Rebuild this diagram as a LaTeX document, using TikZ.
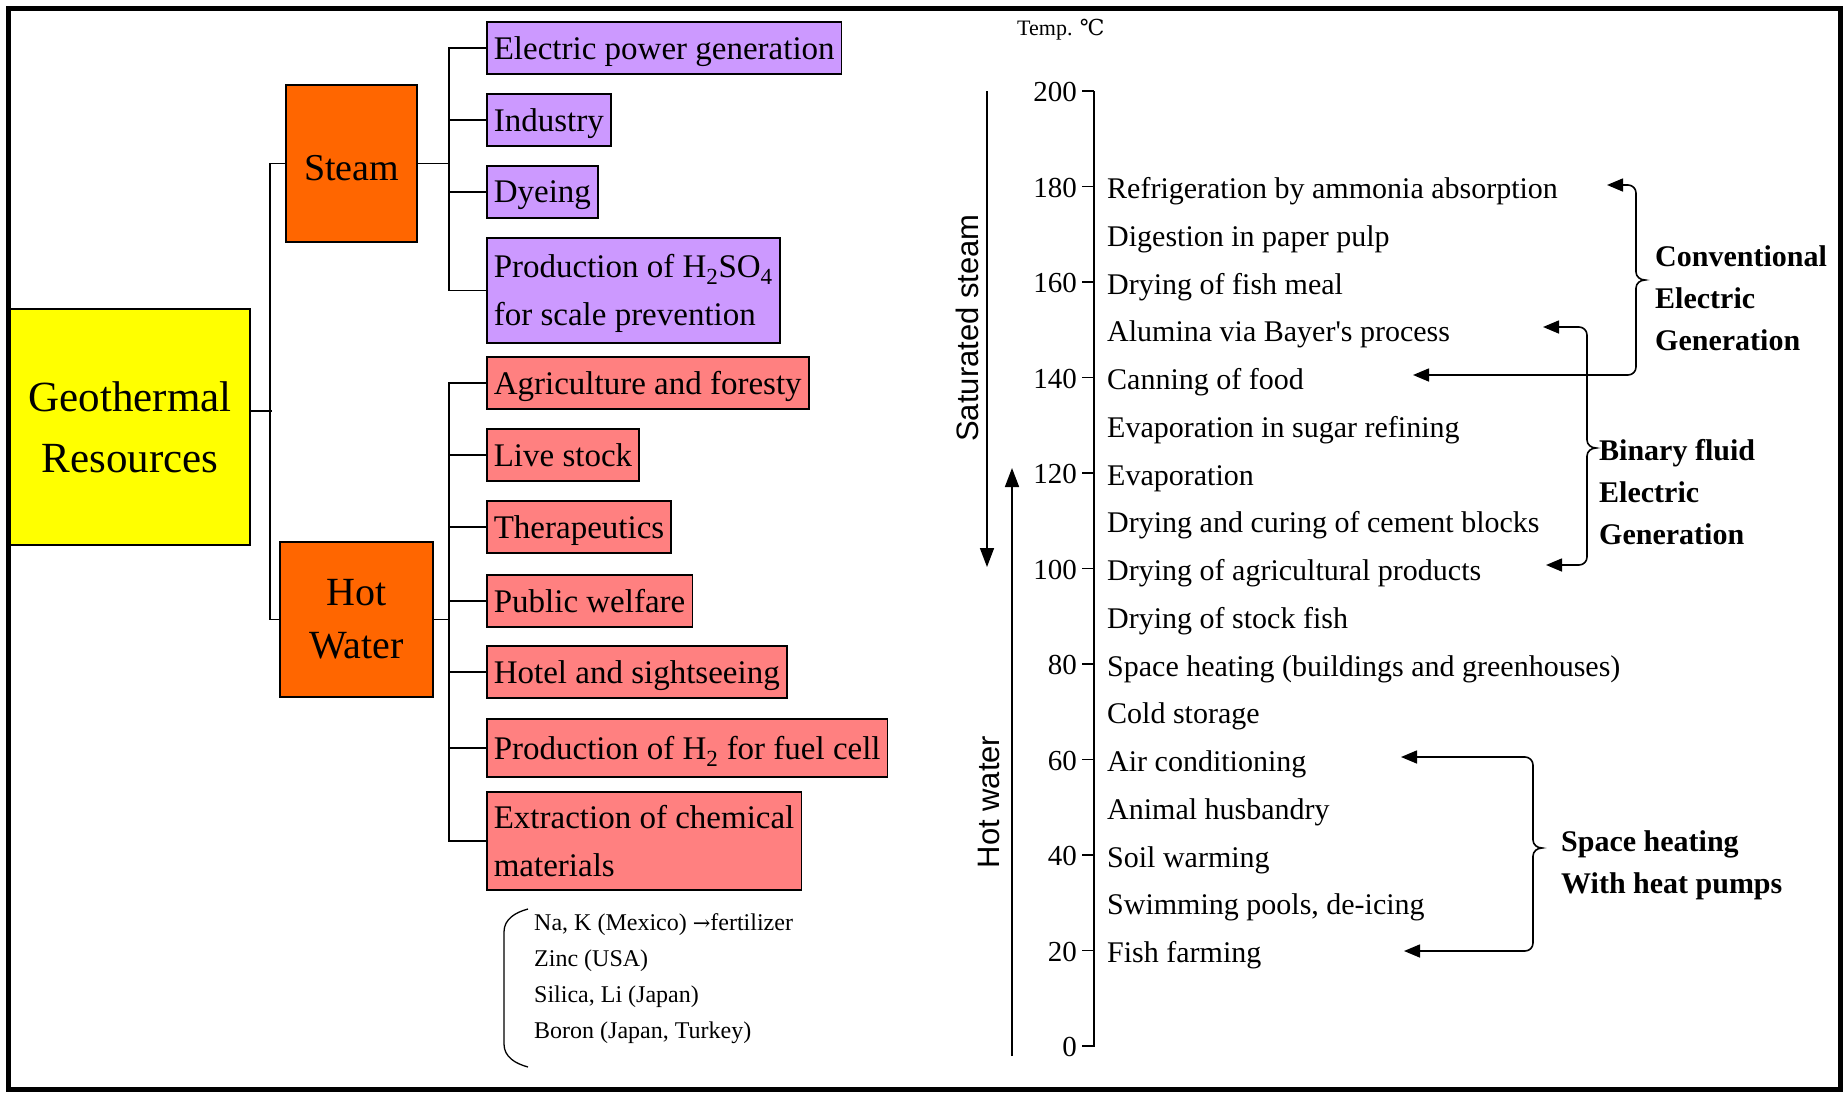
\documentclass[tikz,border=0pt]{standalone}
\usepackage{fontspec}
\setmainfont{Liberation Serif}
\newfontfamily\labelsans{Liberation Sans}
\newfontfamily\degfont{DejaVu Serif}
\usetikzlibrary{arrows.meta}

\definecolor{geocol}{HTML}{FFFF00}
\definecolor{srccol}{HTML}{FF6600}
\definecolor{steamcol}{HTML}{CC99FF}
\definecolor{watercol}{HTML}{FF8080}

\tikzset{
  usebox/.style={draw, line width=1.6pt, anchor=north west, inner xsep=7pt, inner ysep=0pt,
    minimum height=52pt, text depth=0pt, align=left, font=\fontsize{33}{48}\selectfont},
  steambox/.style={usebox, fill=steamcol},
  waterbox/.style={usebox, fill=watercol},
  srcbox/.style={draw, line width=1.6pt, inner sep=0pt, align=center},
  conn/.style={line width=1.6pt},
  tick/.style={anchor=base east, inner sep=0pt, font=\fontsize{29}{36}\selectfont},
  item/.style={anchor=base west, inner sep=0pt, font=\fontsize{30}{36}\selectfont},
  group/.style={anchor=west, inner sep=0pt, align=left, font=\fontsize{30}{42}\selectfont\bfseries},
  pointer/.style={line width=1.6pt, -{Triangle[length=19pt,width=14pt]}},
  twoway/.style={line width=1.6pt, {Triangle[length=16pt,width=13pt]}-{Triangle[length=16pt,width=13pt]}},
}

\begin{document}
\begin{tikzpicture}[x=1pt,y=-1pt]
	\useasboundingbox (0,0) rectangle (1845,1095);
	\draw[line width=5pt] (8,8) rectangle (1840,1089);

	% resources and their uses
	\node[srcbox, fill=geocol, minimum width=240pt, minimum height=236pt, font=\fontsize{43}{61}\selectfont] (geo) at (130,427) {Geothermal\\Resources};
	\node[srcbox, fill=srccol, minimum width=131pt, minimum height=157pt, text height=34pt, font=\fontsize{38}{46}\selectfont] (steam) at (351.5,163.5) {Steam};
	\node[srcbox, fill=srccol, minimum width=153pt, minimum height=155pt, font=\fontsize{40}{53}\selectfont] (hotwater) at (356.5,619.5) {Hot\\Water};

	\node[steambox] (elec) at (486,21) {Electric power generation};
	\node[steambox] (industry) at (486,93) {Industry};
	\node[steambox] (dyeing) at (486,165) {Dyeing};
	\node[steambox, minimum height=105pt] (sulfuric) at (486,237) {Production of H\textsubscript{2}SO\textsubscript{4}\\for scale prevention};

	\node[waterbox] (agri) at (486,356) {Agriculture and foresty};
	\node[waterbox] (livestock) at (486,428) {Live stock};
	\node[waterbox] (thera) at (486,500) {Therapeutics};
	\node[waterbox] (welfare) at (486,574) {Public welfare};
	\node[waterbox] (hotel) at (486,645) {Hotel and sightseeing};
	\node[waterbox, minimum height=58pt] (hydrogen) at (486,718) {Production of H\textsubscript{2} for fuel cell};
	\node[waterbox, minimum height=98pt] (extract) at (486,791) {Extraction of chemical\\materials};

	\draw[conn] ([yshift=16pt]geo.east) -- ++(21,0);
	\draw[conn] (steam.west) -- ++(-15,0) |- (hotwater.west);
	\draw[conn] (steam.east) -- ++(32,0);
	\draw[conn] (elec.west) -- ++(-37,0) |- (sulfuric.west);
	\draw[conn] (industry.west) -- ++(-37,0);
	\draw[conn] (dyeing.west) -- ++(-37,0);
	\draw[conn] (hotwater.east) -- ++(16,0);
	\draw[conn] (agri.west) -- ++(-37,0) |- (extract.west);
	\draw[conn] (livestock.west) -- ++(-37,0);
	\draw[conn] (thera.west) -- ++(-37,0);
	\draw[conn] (welfare.west) -- ++(-37,0);
	\draw[conn] (hotel.west) -- ++(-37,0);
	\draw[conn] (hydrogen.west) -- ++(-37,0);

	\draw[line width=1.3pt] (528,909) to[out=195,in=90] (504,932) -- (504,1044) to[out=-90,in=165] (528,1067);
	\node[anchor=west, align=left, inner sep=0pt, font=\fontsize{24}{36}\selectfont] (minerals) at (534,979) {Na, K (Mexico) {\degfont\fontsize{21}{36}\selectfont →}fertilizer\\Zinc (USA)\\Silica, Li (Japan)\\Boron (Japan, Turkey)};

	% temperature scale
	\node[anchor=west, inner sep=0pt, font=\fontsize{22}{26}\selectfont] (unit) at (1017,30) {Temp. {\degfont ℃}};
	\coordinate (axtop) at (1094,91);
	\coordinate (axbot) at (1094,1047);
	\draw[conn] (axtop) -- (axbot);
	\foreach \t in {0,20,...,200}{
		\draw[conn] (1082,{1046-4.775*\t}) -- (1094,{1046-4.775*\t});
		\node[tick] (tick\t) at (1077,{1056.5-4.775*\t}) {\t};
	}

	\node[rotate=90, inner sep=0pt, font=\labelsans\fontsize{31}{36}\selectfont] (satsteam) at (967,328) {Saturated steam};
	\node[rotate=90, inner sep=0pt, font=\labelsans\fontsize{31}{36}\selectfont] (hotw) at (989,802) {Hot water};
	\coordinate (steamtop) at (987,91);
	\coordinate (steamend) at (987,567);
	\coordinate (waterbot) at (1012,1056);
	\coordinate (waterend) at (1012,468);
	\draw[pointer] (steamtop) -- (steamend);
	\draw[pointer] (waterbot) -- (waterend);

	\node[item] (refrig) at (1107,198.5) {Refrigeration by ammonia absorption};
	\node[item] (pulp) at (1107,246.25) {Digestion in paper pulp};
	\node[item] (fishmeal) at (1107,294) {Drying of fish meal};
	\node[item] (alumina) at (1107,341.75) {Alumina via Bayer\textquotesingle s process};
	\node[item] (canning) at (1107,389.5) {Canning of food};
	\node[item] (sugar) at (1107,437.25) {Evaporation in sugar refining};
	\node[item] (evap) at (1107,485) {Evaporation};
	\node[item] (cement) at (1107,532.75) {Drying and curing of cement blocks};
	\node[item] (agridry) at (1107,580.5) {Drying of agricultural products};
	\node[item] (stockfish) at (1107,628.25) {Drying of stock fish};
	\node[item] (spaceheat) at (1107,676) {Space heating (buildings and greenhouses)};
	\node[item] (cold) at (1107,723.75) {Cold storage};
	\node[item] (aircon) at (1107,771.5) {Air conditioning};
	\node[item] (animal) at (1107,819.25) {Animal husbandry};
	\node[item] (soil) at (1107,867) {Soil warming};
	\node[item] (pools) at (1107,914.75) {Swimming pools, de-icing};
	\node[item] (fishfarm) at (1107,962.5) {Fish farming};

	% generation ranges
	\coordinate (conv-a) at (1607,185);
	\coordinate (conv-b) at (1413,375);
	\draw[twoway] (conv-a) -- (1628,185) to[out=0,in=90] (1636,193) -- (1636,272) to[out=-90,in=180] (1645,280)
		to[out=180,in=90] (1636,288) -- (1636,367) to[out=-90,in=0] (1628,375) -- (conv-b);
	\node[group] (conv) at (1655,298) {Conventional\\Electric\\Generation};

	\coordinate (bin-a) at (1543,327);
	\coordinate (bin-b) at (1546,565);
	\draw[twoway] (bin-a) -- (1579,327) to[out=0,in=90] (1587,335) -- (1587,440) to[out=-90,in=180] (1596,448)
		to[out=180,in=90] (1587,456) -- (1587,557) to[out=-90,in=0] (1579,565) -- (bin-b);
	\node[group] (binary) at (1599,492) {Binary fluid\\Electric\\Generation};

	\coordinate (pump-a) at (1401,757);
	\coordinate (pump-b) at (1404,951);
	\draw[twoway] (pump-a) -- (1525,757) to[out=0,in=90] (1533,765) -- (1533,840) to[out=-90,in=180] (1542,848)
		to[out=180,in=90] (1533,856) -- (1533,943) to[out=-90,in=0] (1525,951) -- (pump-b);
	\node[group] (pumps) at (1561,865) {Space heating\\With heat pumps};
\end{tikzpicture}
\end{document}
